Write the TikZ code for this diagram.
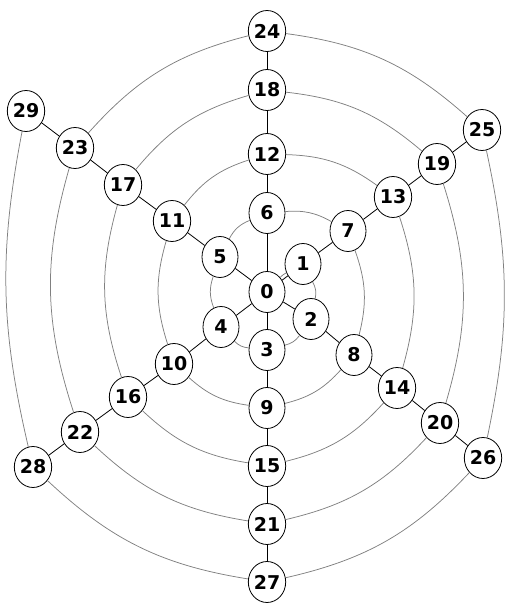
\documentclass[tikz,border=0pt]{standalone}
\usepackage{fontspec}
\setmainfont{DejaVu Sans}
\usetikzlibrary{shapes.geometric}
\begin{document}
\begin{tikzpicture}[x=1pt,y=1pt,
  nd/.style={ellipse,draw=black,fill=white,line width=0.8pt,minimum width=36pt,minimum height=41pt,inner sep=0pt,font=\fontsize{19}{19}\selectfont\bfseries},
  spoke/.style={draw=black,line width=0.8pt},
  spir/.style={draw=black!50,line width=0.75pt}]
\useasboundingbox (0,0) rectangle (507,605);
\node[nd] (n0) at (267,313) {0};
\node[nd] (n1) at (303,341) {1};
\node[nd] (n2) at (311,286) {2};
\node[nd] (n3) at (267,255) {3};
\node[nd] (n4) at (221,278) {4};
\node[nd] (n5) at (220,348) {5};
\node[nd] (n6) at (267,392) {6};
\node[nd] (n7) at (348,374) {7};
\node[nd] (n8) at (354,250) {8};
\node[nd] (n9) at (267,197) {9};
\node[nd] (n10) at (174,241) {10};
\node[nd] (n11) at (172,384) {11};
\node[nd] (n12) at (267,451) {12};
\node[nd] (n13) at (393,408) {13};
\node[nd] (n14) at (397,217) {14};
\node[nd] (n15) at (267,139) {15};
\node[nd] (n16) at (128,208) {16};
\node[nd] (n17) at (123,420) {17};
\node[nd] (n18) at (267,515) {18};
\node[nd] (n19) at (437,441) {19};
\node[nd] (n20) at (440,182) {20};
\node[nd] (n21) at (267,81) {21};
\node[nd] (n22) at (80,173) {22};
\node[nd] (n23) at (75,457) {23};
\node[nd] (n24) at (267,574) {24};
\node[nd] (n25) at (482,475) {25};
\node[nd] (n26) at (483,147) {26};
\node[nd] (n27) at (267,23) {27};
\node[nd] (n28) at (33,138) {28};
\node[nd] (n29) at (26,494) {29};
\draw[spir] (n0) to[bend left=10] (n1);
\foreach \i in {1,...,28}{
  \pgfmathtruncatemacro{\j}{\i+1}
  \pgfmathsetmacro{\b}{\i<6 ? 20 : ((\i==25 || \i==28) ? 12 : 17)}
  \draw[spir] (n\i) to[bend left=\b] (n\j);
}
\foreach \i in {1,...,6}{
  \draw[spoke] (n0) -- (n\i);
}
\foreach \i in {1,...,23}{
  \pgfmathtruncatemacro{\j}{\i+6}
  \draw[spoke] (n\i) -- (n\j);
}
\end{tikzpicture}
\end{document}
